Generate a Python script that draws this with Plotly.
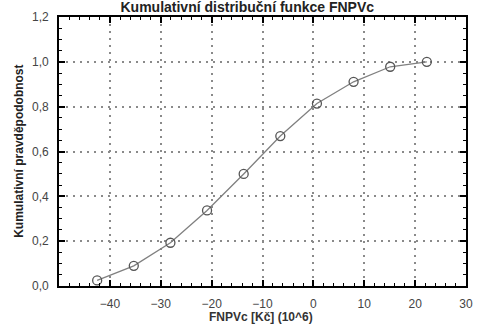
import plotly.graph_objects as go

fnpv = [-42.5, -35.3, -28.1, -20.9, -13.7, -6.5, 0.7, 7.9, 15.1, 22.3]
cum_prob = [0.025, 0.09, 0.193, 0.337, 0.50, 0.669, 0.814, 0.911, 0.978, 1.0]

title_text = "Kumulativní distribuční funkce FNPVc"
x_title = "FNPVc [Kč] (10^6)"
y_title = "Kumulativní pravděpodobnost"

fig = go.Figure()
fig.add_trace(go.Scatter(
    x=fnpv, y=cum_prob, mode="lines+markers",
    line=dict(color="#808080", width=1.3),
    marker=dict(symbol="circle-open", size=9, color="#555555", line=dict(width=1.3, color="#555555")),
))

axis_common = dict(
    showline=True, linecolor="black", linewidth=1.6, mirror="ticks",
    ticks="inside", ticklen=6, tickwidth=1.6, tickcolor="black",
    showgrid=True, gridcolor="#8a8a8a", griddash="2px,5px", gridwidth=1.5,
    zeroline=False,
    tickfont=dict(family="Liberation Sans, Arial", size=12, color="#444444"),
)

fig.update_xaxes(range=[-50, 30], tickvals=[-40, -30, -20, -10, 0, 10, 20, 30],
                 minor=dict(dtick=2, ticks="inside", ticklen=3, tickcolor="black", tickwidth=1.2, showgrid=False),
                 ticklabelstandoff=6,
                 **axis_common)
fig.update_yaxes(range=[0, 1.2], tickvals=[0, 0.2, 0.4, 0.6, 0.8, 1.0, 1.2], tickformat=".1f",
                 minor=dict(dtick=0.05, ticks="inside", ticklen=3, tickcolor="black", tickwidth=1.2, showgrid=False),
                 ticklabelstandoff=6,
                 **axis_common)

fig.update_layout(
    width=483, height=327,
    margin=dict(l=59, r=10, t=16, b=41),
    plot_bgcolor="white", paper_bgcolor="white",
    separators=", ",
    showlegend=False,
    title=dict(text="<b>" + title_text + "</b>", x=0.512, xanchor="center",
               yref="container", y=0.993, yanchor="top",
               font=dict(family="Liberation Sans, Arial", size=14, color="#222222")),
    annotations=[
        dict(text="<b>" + x_title + "</b>", xref="paper", yref="paper", x=0.497, y=-0.147,
             xanchor="center", yanchor="bottom", showarrow=False,
             font=dict(family="Liberation Sans, Arial", size=12, color="#333333")),
        dict(text="<b>" + y_title + "</b>", xref="paper", yref="paper", x=-0.10, y=0.5,
             xanchor="center", yanchor="middle", showarrow=False, textangle=-90,
             font=dict(family="Liberation Sans, Arial", size=12, color="#222222")),
    ],
)

fig.write_html("out.html")
